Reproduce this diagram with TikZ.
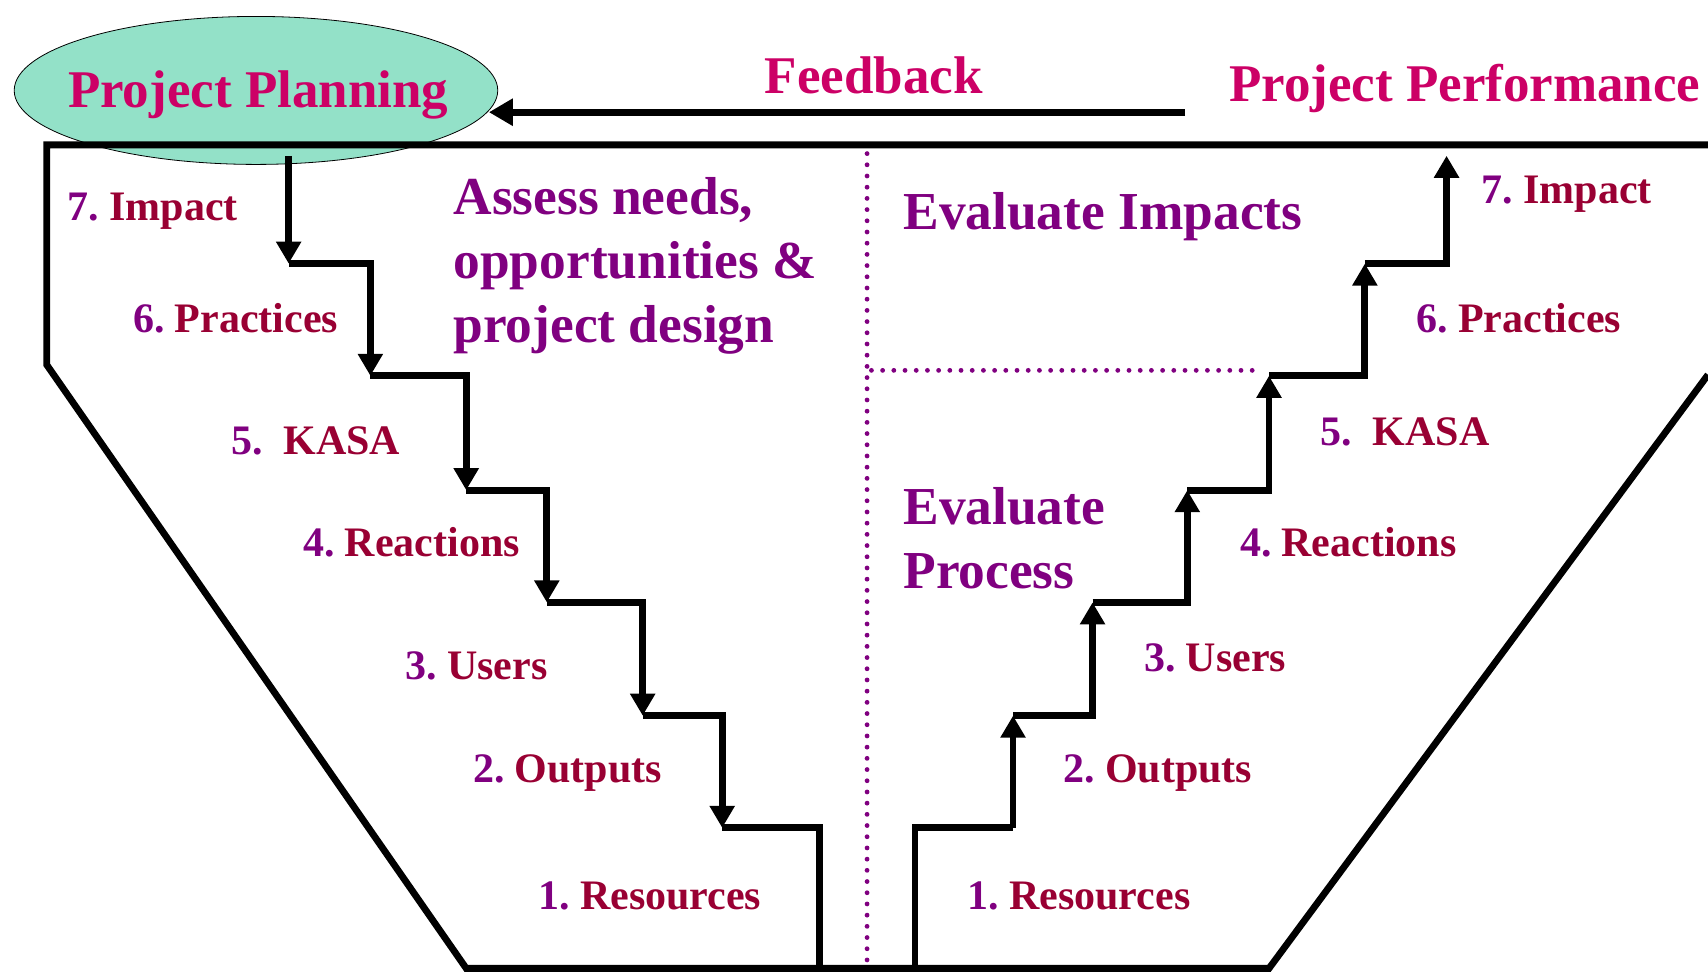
\documentclass[tikz,border=0pt]{standalone}
\usepackage{fontspec}
\setmainfont{Liberation Serif}
\usetikzlibrary{arrows.meta,shapes.geometric,positioning}

\definecolor{titlepink}{HTML}{CC0066}
\definecolor{numpurple}{HTML}{800080}
\definecolor{wordred}{HTML}{990033}
\definecolor{planfill}{HTML}{93E1C8}

\newcommand{\stepname}[2]{\textcolor{numpurple}{#1}\hspace{0.24em}\textcolor{wordred}{#2}}

\tikzset{
  wall/.style={line width=3.4pt},
  stair/.style={line width=3.4pt},
  stairarrow/.style={stair, -{Triangle[length=11pt,width=12pt]}},
  divider/.style={numpurple, line width=2.4pt, dash pattern=on 0pt off 5.6pt, line cap=round},
  steplabel/.style={anchor=base west, inner sep=0pt, font=\bfseries\fontsize{21}{25}\selectfont},
  bigtitle/.style={inner sep=0pt, text=titlepink, font=\bfseries\fontsize{26.5}{32}\selectfont},
  phase/.style={anchor=base west, inner sep=0pt, align=left, text=numpurple, font=\bfseries\fontsize{26.7}{32}\selectfont},
  planblob/.style={ellipse, draw, thin, fill=planfill, minimum width=241.8pt, minimum height=74pt}
}

\begin{document}
\begin{tikzpicture}[x=0.5447pt, y=-0.5447pt]
  \useasboundingbox (0, 0) rectangle (1568, 894);

  \node[planblob] (plan) at (235, 83) {};
  \node[bigtitle, anchor=base] (plantext) at (237, 99) {Project Planning};

  % funnel outline
  \draw[wall] (1568, 133) -- (43, 133) -- (43, 335) -- (428, 889) -- (1165, 889) -- (1568, 344);

  % feedback
  \coordinate (fbstart) at (1088, 103);
  \draw[line width=3.6pt, -{Triangle[length=12pt,width=13pt]}] (fbstart) -- (fbstart -| plan.-5);
  \node[bigtitle, anchor=base] (feedback) at (802, 86) {Feedback};
  \node[bigtitle, anchor=base west] (perform) at (1128, 93) {Project Performance};

  % dividers
  \draw[divider] (796, 141) -- (796, 886);
  \draw[divider] (800, 340) -- (1158, 340);

  % planning stairs, going down
  \coordinate (p0) at (265, 143);
  \coordinate (p1) at (265, 242);
  \coordinate (p2) at (340, 345);
  \coordinate (p3) at (428, 450);
  \coordinate (p4) at (502, 553);
  \coordinate (p5) at (590, 657);
  \coordinate (p6) at (663, 760);
  \coordinate (p7) at (752, 889);
  \draw[stairarrow] (p0) -- (p1);
  \draw[stairarrow] (p1) -| (p2);
  \draw[stairarrow] (p2) -| (p3);
  \draw[stairarrow] (p3) -| (p4);
  \draw[stairarrow] (p4) -| (p5);
  \draw[stairarrow] (p5) -| (p6);
  \draw[stair] (p6) -| (p7);

  % performance stairs, going up
  \coordinate (e0) at (840, 889);
  \coordinate (e1) at (930, 760);
  \coordinate (e2) at (930, 657);
  \coordinate (e3) at (1003, 553);
  \coordinate (e4) at (1090, 450);
  \coordinate (e5) at (1165, 345);
  \coordinate (e6) at (1253, 242);
  \coordinate (e7) at (1328, 143);
  \draw[stair] (e0) |- (e1);
  \draw[stairarrow] (e1) -- (e2);
  \draw[stairarrow] (e2) -| (e3);
  \draw[stairarrow] (e3) -| (e4);
  \draw[stairarrow] (e4) -| (e5);
  \draw[stairarrow] (e5) -| (e6);
  \draw[stairarrow] (e6) -| (e7);

  % phase texts (base = last line)
  \node[phase] (assess) at (416, 314) {Assess needs,\\opportunities \&\\project design};
  \node[phase] (evalimp) at (829, 211) {Evaluate Impacts};
  \node[phase] (evalproc) at (829, 540) {Evaluate\\Process};

  % step labels, left
  \node[steplabel] (lImpact) at (62, 202) {\stepname{7.}{Impact}};
  \node[steplabel] (lPractices) at (122, 305) {\stepname{6.}{Practices}};
  \node[steplabel] (lKasa) at (212, 417) {\stepname{5.\ }{KASA}};
  \node[steplabel] (lReactions) at (278, 511) {\stepname{4.}{Reactions}};
  \node[steplabel] (lUsers) at (372, 624) {\stepname{3.}{Users}};
  \node[steplabel] (lOutputs) at (434, 718) {\stepname{2.}{Outputs}};
  \node[steplabel] (lResources) at (494, 835) {\stepname{1.}{Resources}};

  % step labels, right
  \node[steplabel] (rImpact) at (1360, 187) {\stepname{7.}{Impact}};
  \node[steplabel] (rPractices) at (1300, 305) {\stepname{6.}{Practices}};
  \node[steplabel] (rKasa) at (1212, 409) {\stepname{5.\ }{KASA}};
  \node[steplabel] (rReactions) at (1138, 511) {\stepname{4.}{Reactions}};
  \node[steplabel] (rUsers) at (1050, 616) {\stepname{3.}{Users}};
  \node[steplabel] (rOutputs) at (976, 718) {\stepname{2.}{Outputs}};
  \node[steplabel] (rResources) at (888, 835) {\stepname{1.}{Resources}};
\end{tikzpicture}
\end{document}
